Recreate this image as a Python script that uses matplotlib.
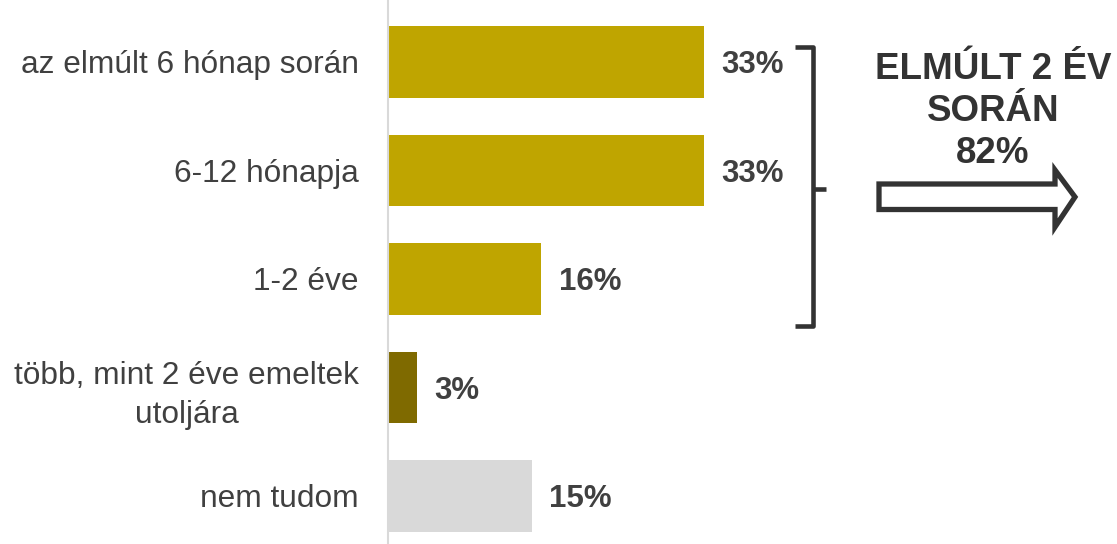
import matplotlib
matplotlib.use("Agg")
import matplotlib.pyplot as plt
from matplotlib.lines import Line2D
from matplotlib.patches import Polygon
from matplotlib.transforms import Affine2D

plt.rcParams['font.family'] = ['Liberation Sans', 'DejaVu Sans']

categories = [
    "az elmúlt 6 hónap során",
    "6-12 hónapja",
    "1-2 éve",
    "több, mint 2 éve emeltek\nutoljára",
    "nem tudom",
]
values = [33, 33, 16, 3, 15]
bar_colors = ["#BFA500", "#BFA500", "#BFA500", "#7F6A00", "#D9D9D9"]
summary_lines = ["ELMÚLT 2 ÉV", "SORÁN", "82%"]

TEXT = "#404040"
W, H = 1117, 544

fig = plt.figure(figsize=(W / 100, H / 100), dpi=100)
ax = fig.add_axes([388 / W, 0, (W - 388) / W, 1])

px_per_unit = 316 / 33
ax.set_xlim(0, (W - 388) / px_per_unit)
step = 108.5
ax.set_ylim((H - 62) / step, -62 / step)

ypos = list(range(len(categories)))
ax.barh(ypos, values, height=0.66, color=bar_colors, left=0, zorder=2)

for y, v in zip(ypos, values):
    ax.annotate(f"{v}%", xy=(v, y), xytext=(12.5, 0), textcoords="offset points",
                ha="left", va="center_baseline", fontsize=22.5,
                fontweight="bold", color=TEXT)

ax.set_yticks(ypos)
ax.set_yticklabels(categories, fontsize=22.8, color=TEXT)
for lbl in ax.get_yticklabels():
    lbl.set_multialignment("center")
    lbl.set_linespacing(1.38)
ax.tick_params(axis="y", length=0, pad=21)
ax.tick_params(axis="x", bottom=False, labelbottom=False)
for s in ["top", "right", "bottom"]:
    ax.spines[s].set_visible(False)
ax.spines["left"].set_color("#D9D9D9")
ax.spines["left"].set_linewidth(1.5)

# figure-pixel coordinates (origin top-left)
pix = Affine2D().scale(1 / W, -1 / H).translate(0, 1) + fig.transFigure

# bracket grouping the first three bars
bracket = Line2D([795, 812.5, 812.5, 795], [47, 47, 325.5, 325.5],
                 transform=pix, color="#333333", lw=3.3,
                 solid_joinstyle="round", solid_capstyle="butt")
tick = Line2D([812.5, 826], [189, 189], transform=pix, color="#333333",
              lw=3.3, solid_capstyle="butt")
fig.add_artist(bracket)
fig.add_artist(tick)

# outlined block arrow
arrow = Polygon([(879, 184), (1055, 184), (1055, 170), (1075, 197),
                 (1055, 227), (1055, 209.5), (879, 209.5)],
                closed=True, transform=pix, facecolor="white",
                edgecolor="#333333", lw=3.8, joinstyle="miter")
fig.add_artist(arrow)

for line, base in zip(summary_lines, [79, 121, 163]):
    fig.text(993 / W, 1 - base / H, line, ha="center", va="baseline",
             fontsize=26.5, fontweight="bold", color="#333333")

fig.savefig("out.png", dpi=100, facecolor="white")
